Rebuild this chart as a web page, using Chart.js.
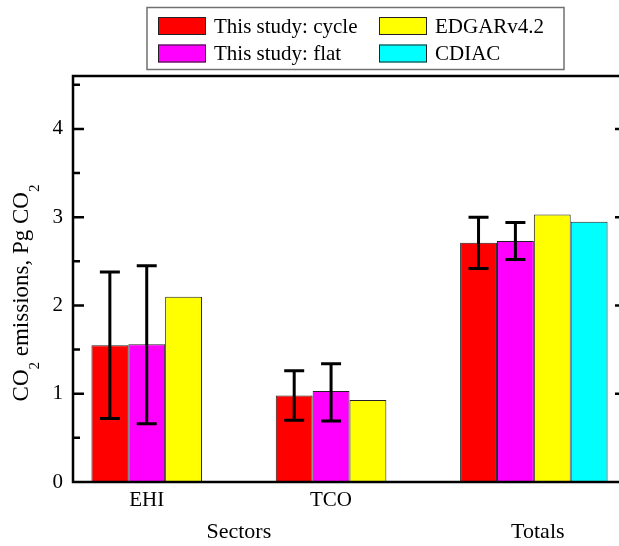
<!DOCTYPE html>
<html>
<head>
<meta charset="utf-8">
<title>CO2 emissions by sector</title>
<script src="https://cdn.jsdelivr.net/npm/chart.js@4.4.1/dist/chart.umd.min.js"></script>
<style>
  html, body { margin: 0; padding: 0; background: #fff; overflow: hidden; }
  #wrap { position: absolute; left: 0; top: 0; width: 640px; height: 546px; }
</style>
</head>
<body>
<div id="wrap"><canvas id="co2Chart" width="640" height="546"></canvas></div>
<script>
// === Data ===
const categories = ['EHI', 'TCO', 'Totals'];
const tickLabels = ['EHI', 'TCO', ''];
const seriesNames = ['This study: cycle', 'This study: flat', 'EDGARv4.2', 'CDIAC'];
const seriesColors = ['#ff0000', '#ff00ff', '#ffff00', '#00ffff'];

const cycleValues = [1.55, 0.98, 2.71];
const flatValues = [1.56, 1.03, 2.73];
const edgarValues = [2.10, 0.93, 3.03];
const cdiacValues = [null, null, 2.95];

// error bar ranges (low / high)
const cycleLow = [0.72, 0.70, 2.42];
const cycleHigh = [2.38, 1.26, 3.00];
const flatLow = [0.66, 0.69, 2.52];
const flatHigh = [2.45, 1.34, 2.94];

const yTickValues = [0, 1, 2, 3, 4];
const yMinorStep = 0.5;
const yMax = 4.6;

const serif = '"Liberation Serif", "Times New Roman", serif';
Chart.defaults.color = '#000';

// === Error bars ===
const errorBarPlugin = {
  id: 'errorBars',
  afterDatasetsDraw(chart) {
    const { ctx } = chart;
    const y = chart.scales.y;
    ctx.save();
    ctx.strokeStyle = '#000';
    ctx.lineWidth = 3;
    chart.data.datasets.forEach((ds, i) => {
      if (!ds.errLow) return;
      const meta = chart.getDatasetMeta(i);
      meta.data.forEach((bar, j) => {
        const lo = ds.errLow[j];
        const hi = ds.errHigh[j];
        if (lo == null || hi == null) return;
        const x = bar.x;
        const yLo = y.getPixelForValue(lo);
        const yHi = y.getPixelForValue(hi);
        ctx.beginPath();
        ctx.moveTo(x, yLo);
        ctx.lineTo(x, yHi);
        ctx.moveTo(x - 10, yLo);
        ctx.lineTo(x + 10, yLo);
        ctx.moveTo(x - 10, yHi);
        ctx.lineTo(x + 10, yHi);
        ctx.stroke();
      });
    });
    ctx.restore();
  }
};

// === Box frame with inward ticks ===
const framePlugin = {
  id: 'frame',
  afterDatasetsDraw(chart) {
    const { ctx, chartArea: a } = chart;
    const y = chart.scales.y;
    ctx.save();
    ctx.strokeStyle = '#000';
    ctx.lineWidth = 2.5;
    ctx.strokeRect(a.left, a.top, a.right - a.left, a.bottom - a.top);
    ctx.beginPath();
    for (let v = yMinorStep; v <= yMax; v += yMinorStep) {
      const py = y.getPixelForValue(v);
      const len = yTickValues.includes(v) ? 11 : 7;
      ctx.moveTo(a.left, py);
      ctx.lineTo(a.left + len, py);
      ctx.moveTo(a.right, py);
      ctx.lineTo(a.right - len, py);
    }
    ctx.stroke();
    ctx.restore();
  }
};

// === Titles, group labels, legend ===
function drawRich(ctx, parts, size, subSize, subDrop) {
  // parts drawn centred on the current origin, alphabetic baseline at 0
  const widths = parts.map(p => {
    ctx.font = `${p.sub ? subSize : size}px ${serif}`;
    return ctx.measureText(p.text).width;
  });
  const total = widths.reduce((s, w) => s + w, 0);
  let x = -total / 2;
  parts.forEach((p, i) => {
    ctx.font = `${p.sub ? subSize : size}px ${serif}`;
    ctx.fillText(p.text, x, p.sub ? subDrop : 0);
    x += widths[i];
  });
}

const labelsPlugin = {
  id: 'labels',
  afterDraw(chart) {
    const { ctx } = chart;
    const x = chart.scales.x;
    ctx.save();
    ctx.fillStyle = '#000';
    ctx.textBaseline = 'alphabetic';
    ctx.textAlign = 'left';

    // y title
    ctx.save();
    ctx.translate(28, 293);
    ctx.rotate(-Math.PI / 2);
    drawRich(ctx, [
      { text: 'CO' }, { text: '2', sub: true },
      { text: ' emissions, Pg CO' }, { text: '2', sub: true }
    ], 23, 15, 11);
    ctx.restore();

    // second row of x labels
    ctx.font = `22px ${serif}`;
    ctx.textAlign = 'center';
    const ehiX = x.getPixelForValue(0) - 18.5;
    const tcoX = x.getPixelForValue(1) - 18.5;
    ctx.fillText('Sectors', (ehiX + tcoX) / 2, 538);
    ctx.fillText(categories[2], x.getPixelForValue(2) + 4, 538);

    // legend box
    ctx.strokeStyle = '#707070';
    ctx.lineWidth = 1.5;
    ctx.strokeRect(147, 7.5, 417, 62);
    const cols = [158, 379];
    const rows = [17, 44.5];
    ctx.font = `21px ${serif}`;
    ctx.textAlign = 'left';
    ctx.textBaseline = 'middle';
    ctx.lineWidth = 1;
    ctx.strokeStyle = '#222';
    chart.data.datasets.forEach((ds, i) => {
      const cx = cols[Math.floor(i / 2)];
      const cy = rows[i % 2];
      ctx.fillStyle = ds.backgroundColor;
      ctx.fillRect(cx, cy, 48, 18);
      ctx.strokeRect(cx + 0.5, cy + 0.5, 47, 17);
      ctx.fillStyle = '#000';
      ctx.fillText(ds.label, cx + 56, cy + 10);
    });
    ctx.restore();
  }
};

// === Chart ===
function makeSet(i, values, low, high) {
  return {
    label: seriesNames[i],
    data: values,
    backgroundColor: seriesColors[i],
    borderColor: '#222',
    borderWidth: 1,
    borderSkipped: 'start',
    errLow: low,
    errHigh: high
  };
}

new Chart(document.getElementById('co2Chart'), {
  type: 'bar',
  data: {
    labels: categories,
    datasets: [
      makeSet(0, cycleValues, cycleLow, cycleHigh),
      makeSet(1, flatValues, flatLow, flatHigh),
      makeSet(2, edgarValues),
      makeSet(3, cdiacValues)
    ]
  },
  options: {
    responsive: false,
    animation: false,
    layout: { padding: { top: 76, right: 14, left: 0, bottom: 0 } },
    datasets: { bar: { categoryPercentage: 0.8, barPercentage: 1.0 } },
    plugins: {
      legend: { display: false },
      tooltip: { enabled: false }
    },
    scales: {
      x: {
        grid: { display: false, drawTicks: false },
        border: { display: false },
        ticks: {
          font: { family: serif, size: 21 },
          color: '#000',
          padding: 6,
          labelOffset: -18.5,
          maxRotation: 0,
          callback: (v, i) => tickLabels[i]
        },
        afterFit: (scale) => { scale.height = 64; }
      },
      y: {
        min: 0,
        max: yMax,
        grid: { display: false, drawTicks: false },
        border: { display: false },
        ticks: {
          stepSize: 1,
          includeBounds: false,
          font: { family: serif, size: 21 },
          color: '#000',
          padding: 10
        },
        afterFit: (scale) => { scale.width = 73; }
      }
    }
  },
  plugins: [errorBarPlugin, framePlugin, labelsPlugin]
});
</script>
</body>
</html>
